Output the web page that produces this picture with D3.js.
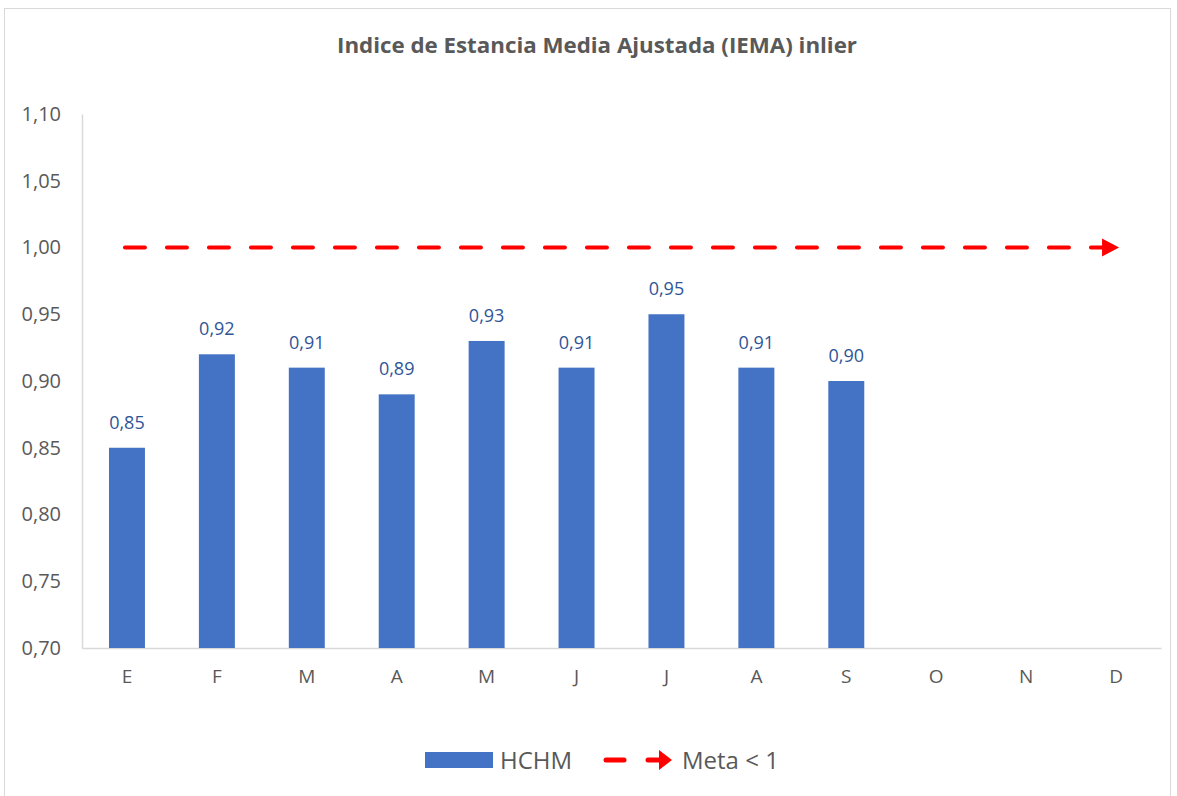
<!DOCTYPE html>
<html>
<head>
<meta charset="utf-8">
<script src="https://cdn.jsdelivr.net/npm/d3@7"></script>
<style>
body { margin: 0; background: #fff; }
text { font-family: "Open Sans", "Noto Sans", sans-serif; }
</style>
</head>
<body>
<script>
var months = ["E","F","M","A","M","J","J","A","S","O","N","D"];
var hchm = [0.85,0.92,0.91,0.89,0.93,0.91,0.95,0.91,0.90,null,null,null];
var meta = 1.0;
var yTicks = [0.70,0.75,0.80,0.85,0.90,0.95,1.00,1.05,1.10];

var W = 1177, H = 796;
var svg = d3.select("body").append("svg").attr("width", W).attr("height", H);

// chart frame
svg.append("rect").attr("x",4.5).attr("y",8.5).attr("width",1166).attr("height",800)
  .attr("fill","#fff").attr("stroke","#d9d9d9");

var pLeft = 82, pRight = 1161, pTop = 114, pBottom = 648;
var x = d3.scaleBand().domain(d3.range(months.length)).range([pLeft,pRight]).paddingInner(0.6).paddingOuter(0.3);
var y = d3.scaleLinear().domain([0.70,1.10]).range([pBottom,pTop]);

svg.append("text").attr("x",597).attr("y",53).attr("text-anchor","middle")
  .attr("font-size",21.5).attr("font-weight","bold").attr("fill","#595959")
  .attr("textLength",520).attr("lengthAdjust","spacingAndGlyphs")
  .text("Indice de Estancia Media Ajustada (IEMA) inlier");

// axes
var yAxis = svg.append("g").attr("transform","translate("+pLeft+",0)")
  .call(d3.axisLeft(y).tickValues(yTicks).tickSize(0).tickPadding(21)
    .tickFormat(function(d){ return d3.format(".2f")(d).replace(".",","); }));
yAxis.select(".domain").attr("stroke","#d9d9d9").attr("stroke-width",1.5);
yAxis.selectAll("text").attr("font-size",20).attr("fill","#595959");

var xAxis = svg.append("g").attr("transform","translate(0,"+pBottom+")")
  .call(d3.axisBottom(x).tickSize(0).tickPadding(22).tickFormat(function(i){ return months[i]; }));
xAxis.select(".domain").attr("stroke","#d9d9d9").attr("stroke-width",1.5);
xAxis.selectAll("text").attr("font-size",19).attr("fill","#595959");

// bars
var data = hchm.map(function(v,i){ return {i:i, v:v}; }).filter(function(d){ return d.v != null; });
svg.selectAll("rect.bar").data(data).enter().append("rect").attr("class","bar")
  .attr("x",function(d){ return x(d.i); })
  .attr("y",function(d){ return y(d.v); })
  .attr("width",x.bandwidth())
  .attr("height",function(d){ return pBottom - y(d.v); })
  .attr("fill","#4472C4");

svg.selectAll("text.lbl").data(data).enter().append("text").attr("class","lbl")
  .attr("x",function(d){ return x(d.i) + x.bandwidth()/2; })
  .attr("y",function(d){ return y(d.v) - 19; })
  .attr("text-anchor","middle").attr("font-size",18).attr("fill","#2F5597")
  .text(function(d){ return d3.format(".2f")(d.v).replace(".",","); });

// meta line
var x0 = x(0) + x.bandwidth()/2 - 2, x1 = x(11) + x.bandwidth()/2 - 12;
svg.append("line").attr("x1",x0).attr("x2",x1).attr("y1",y(meta)).attr("y2",y(meta))
  .attr("stroke","#FF0000").attr("stroke-width",4).attr("stroke-linecap","round")
  .attr("stroke-dasharray","20 22");
svg.append("path")
  .attr("d","M"+(x1-2)+","+(y(meta)-9)+"L"+(x1+15)+","+y(meta)+"L"+(x1-2)+","+(y(meta)+9)+"Z")
  .attr("fill","#FF0000");

// legend
var lg = svg.append("g");
lg.append("rect").attr("x",425).attr("y",752).attr("width",68).attr("height",16).attr("fill","#4472C4");
lg.append("text").attr("x",500).attr("y",769).attr("font-size",24).attr("fill","#595959").text("HCHM");
lg.append("line").attr("x1",606).attr("x2",624).attr("y1",760).attr("y2",760)
  .attr("stroke","#FF0000").attr("stroke-width",5).attr("stroke-linecap","round");
lg.append("line").attr("x1",648).attr("x2",660).attr("y1",760).attr("y2",760)
  .attr("stroke","#FF0000").attr("stroke-width",5).attr("stroke-linecap","round");
lg.append("path").attr("d","M659,750L672,760L659,770Z").attr("fill","#FF0000");
lg.append("text").attr("x",682).attr("y",769).attr("font-size",24).attr("fill","#595959").text("Meta < 1");
</script>
</body>
</html>
